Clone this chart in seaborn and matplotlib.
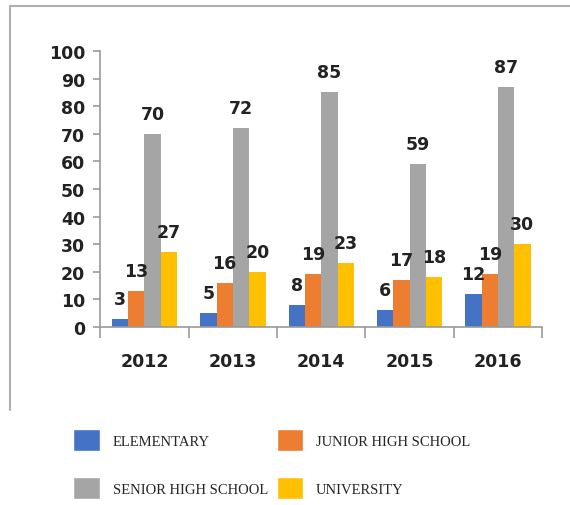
import pandas as pd
import matplotlib.pyplot as plt
import seaborn as sns
from matplotlib.lines import Line2D
from matplotlib.patches import Patch

years = ['2012', '2013', '2014', '2015', '2016']
elementary = [3, 5, 8, 6, 12]
junior_high = [13, 16, 19, 17, 19]
senior_high = [70, 72, 85, 59, 87]
university = [27, 20, 23, 18, 30]

levels = ['ELEMENTARY', 'JUNIOR HIGH SCHOOL', 'SENIOR HIGH SCHOOL', 'UNIVERSITY']
colors = ['#4472C4', '#ED7D31', '#A5A5A5', '#FFC000']

# tabella in formato lungo per seaborn
df = pd.DataFrame({'year': years * 4,
                   'level': [l for l in levels for _ in years],
                   'value': elementary + junior_high + senior_high + university})

sns.set_style('white')
plt.rcParams['font.family'] = ['DejaVu Sans']

fig = plt.figure(figsize=(5.7, 5.06), dpi=100)
ax = fig.add_axes([0.176, 0.352, 0.775, 0.545])

sns.barplot(data=df, x='year', y='value', hue='level', palette=colors,
            width=0.74, saturation=1, linewidth=0, ax=ax, legend=False)

for cont in ax.containers:
    ax.bar_label(cont, padding=8, fontsize=12.5, fontweight='semibold', color='#222222')

ax.set_ylim(0, 100)
ax.set_yticks(range(0, 101, 10))
ax.set_xlim(-0.5, 4.5)
ax.set_xlabel('')
ax.set_ylabel('')
sns.despine(ax=ax)
for side in ['left', 'bottom']:
    ax.spines[side].set_color('#9a9a9a')
    ax.spines[side].set_linewidth(1.2)

ax.tick_params(axis='y', left=True, length=5, width=1.2, color='#9a9a9a', pad=6,
               labelsize=12.5, labelcolor='#222222')
ax.tick_params(axis='x', which='major', bottom=False, length=0, pad=18,
               labelsize=12.5, labelcolor='#222222')
ax.set_xticks([-0.5, 0.5, 1.5, 2.5, 3.5, 4.5], minor=True)
ax.tick_params(axis='x', which='minor', bottom=True, length=8, width=1.2,
               color='#9a9a9a')
for t in ax.get_xticklabels() + ax.get_yticklabels():
    t.set_fontweight('semibold')

# cornice esterna
fig.add_artist(Line2D([10 / 570, 10 / 570], [1 - 7 / 506, 1 - 411 / 506],
                      color='#b0b0b0', lw=1.5))
fig.add_artist(Line2D([10 / 570, 1.0], [1 - 7 / 506, 1 - 7 / 506],
                      color='#b0b0b0', lw=1.5))

# legenda sotto il grafico
order = [0, 2, 1, 3]
handles = [Patch(facecolor=colors[i], edgecolor='white') for i in order]
labels = [levels[i] for i in order]
fig.legend(handles, labels, ncol=2, loc='upper left',
           bbox_to_anchor=(66 / 570, 1 - 423 / 506), frameon=False,
           prop={'family': 'Liberation Serif', 'size': 10.5},
           handlelength=1.8, handleheight=1.9, handletextpad=0.9,
           labelspacing=1.8, columnspacing=0.6, borderpad=0)

fig.savefig('out.png', dpi=100)
